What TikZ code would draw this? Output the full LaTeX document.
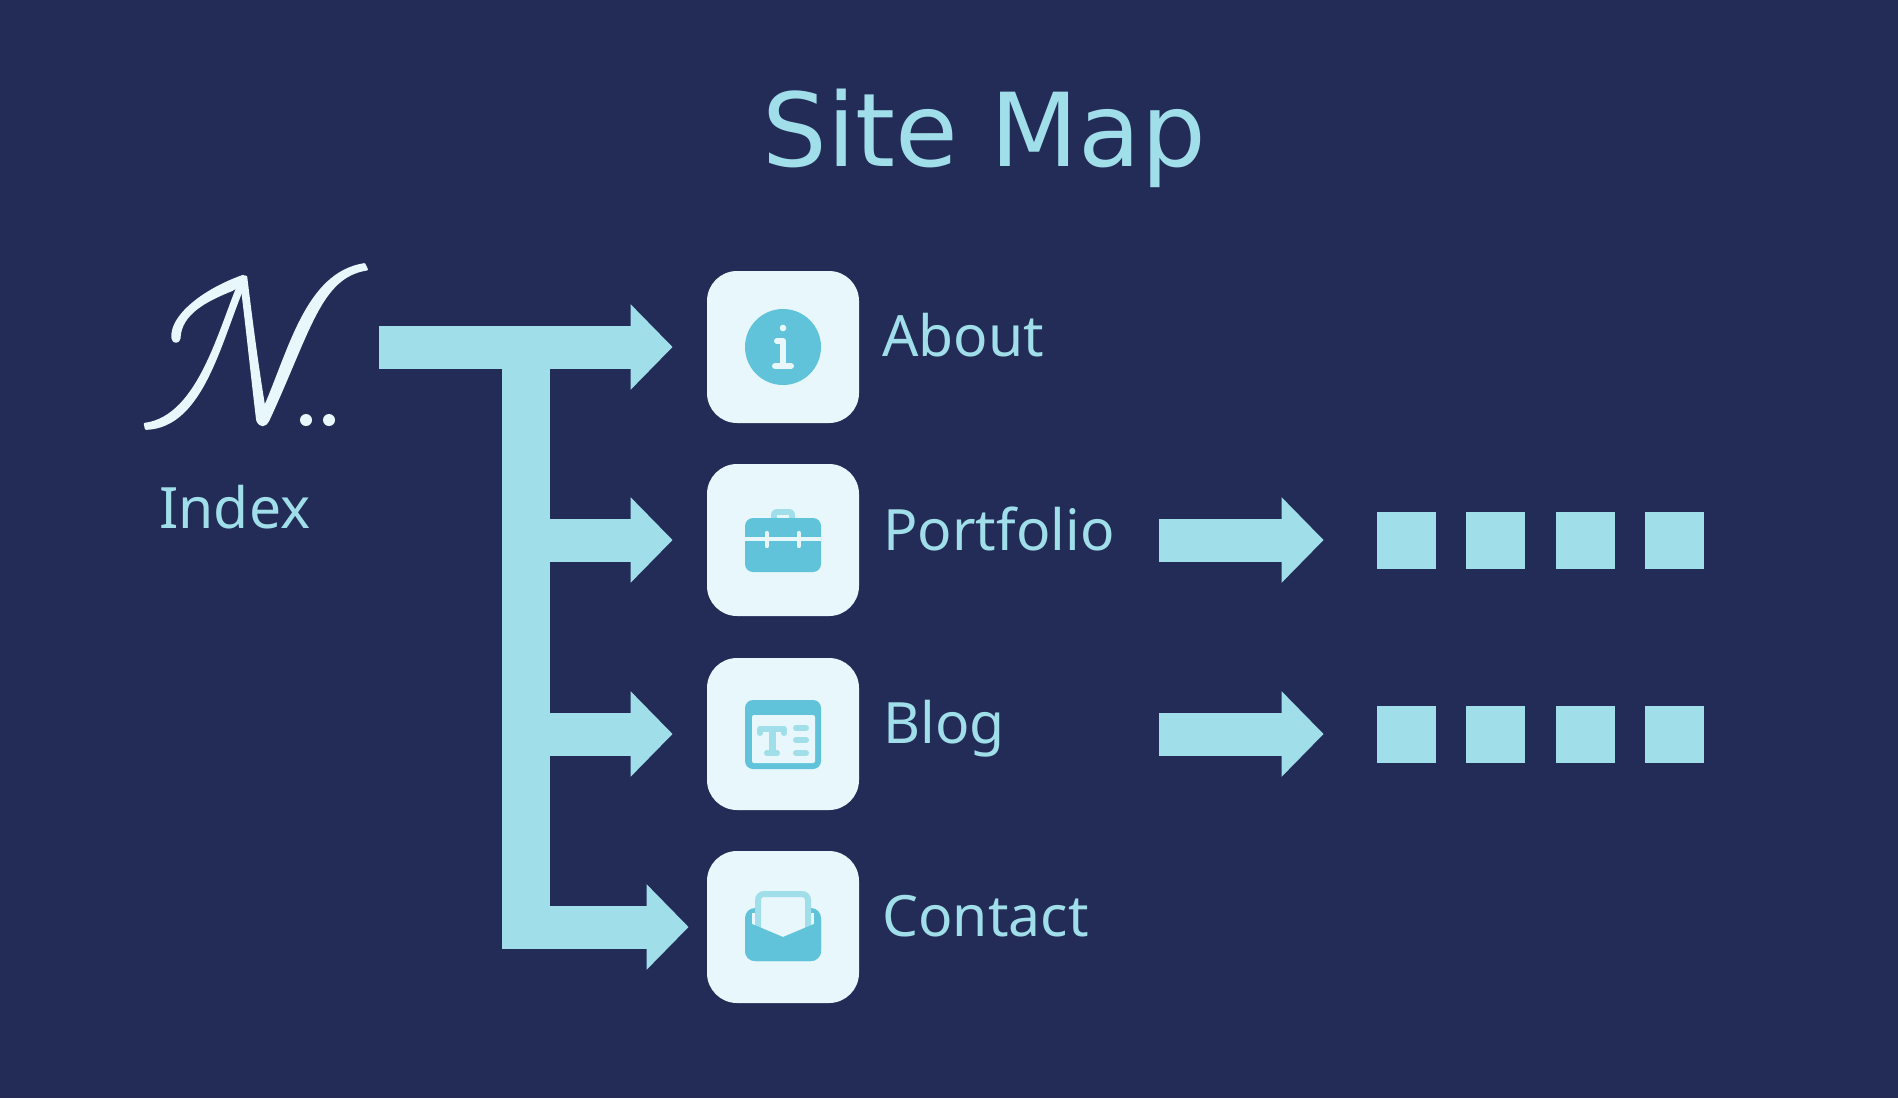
\documentclass[tikz,border=0pt]{standalone}
\usepackage{fontspec}
\setmainfont{Noto Sans}
\newfontfamily\titlefont{DejaVu Sans}
\usetikzlibrary{positioning, arrows.meta, calc}
\definecolor{bgblue}{HTML}{232B57}
\definecolor{lightblue}{HTML}{A0DEEA}
\definecolor{paleblue}{HTML}{E7F7FB}
\definecolor{iconblue}{HTML}{61C3D9}
\tikzset{>=latex}

\begin{document}
\begin{tikzpicture}[x=0.5pt, y=-0.5pt]

\tikzstyle{card}=[fill=paleblue, rectangle, rounded corners=15pt, minimum size=76pt, inner sep=0]
\tikzstyle{label}=[text=lightblue, anchor=base west, inner sep=0, font=\fontsize{28.5}{32}\selectfont]
\tikzstyle{title}=[text=lightblue, anchor=base west, inner sep=0, font=\titlefont\fontsize{51}{56}\selectfont]
\tikzstyle{block}=[draw=lightblue, line width=21.5pt, -{Triangle[length=21pt, width=41.5pt]}]
\tikzstyle{trunk}=[draw=lightblue, line width=24pt]
\tikzstyle{page-sq}=[fill=lightblue, rectangle, minimum width=29.5pt, minimum height=28.5pt, inner sep=0]

\useasboundingbox (0, 0) rectangle (1898, 1098);
\fill [bgblue] (0, 0) rectangle (1898, 1098);

% title and index
\node [title] (title) at (762, 166) {Site Map};
\node [label] (index) at (159, 528) {Index};

% logo, in coordinates of 1/3 pixel
\begin{scope}[x=0.16667pt, y=-0.16667pt, shift={(60pt, -120pt)}, fill=paleblue, draw=paleblue, line width=1.2pt, line join=round]
\filldraw (158, 295) .. controls (150, 230) and (250, 150) .. (370, 108)
	-- (378, 125) -- (335, 150) .. controls (260, 180) and (180, 220) .. (178, 295)
	.. controls (176, 308) and (160, 308) .. (158, 295) -- cycle;
\filldraw (365, 112) .. controls (300, 260) and (240, 530) .. (75, 552)
	-- (78, 566) .. controls (250, 560) and (300, 300) .. (378, 120) -- cycle;
\filldraw (362, 112) -- (378, 110) .. controls (395, 250) and (415, 400) .. (433, 505)
	.. controls (510, 330) and (560, 100) .. (733, 73) -- (740, 88)
	.. controls (600, 110) and (570, 270) .. (445, 540)
	.. controls (435, 560) and (420, 560) .. (412, 540)
	.. controls (395, 400) and (380, 250) .. (362, 112) -- cycle;
\fill (558, 540) circle [radius=18];
\fill (627, 540) circle [radius=18];
\end{scope}

% cards
\node [card] (about) at (783, 347) {};
\node [card] (portfolio) at ($(about) + (0, 193)$) {};
\node [card] (blog) at ($(portfolio) + (0, 194)$) {};
\node [card] (contact) at ($(blog) + (0, 193)$) {};

\node [label] (about-label) at (882, 356) {About};
\node [label] (portfolio-label) at (883, 550) {Portfolio};
\node [label] (blog-label) at (883, 743) {Blog};
\node [label] (contact-label) at (882, 936) {Contact};

% arrows from the index
\coordinate (root) at (379, 347);
\coordinate (trunk-top) at (526, 369);
\coordinate (trunk-bottom) at (526, 949);
\draw [trunk] (trunk-top) -- (trunk-bottom);
\draw [block, shorten >=17pt] (root) -- (about);
\draw [block, shorten >=17pt] (trunk-top |- portfolio) -- (portfolio.west);
\draw [block, shorten >=17pt] (trunk-top |- blog) -- (blog.west);
\draw [block, shorten >=9pt] (trunk-top |- contact) -- (contact.west);

% pages behind portfolio and blog
\foreach \name in {portfolio, blog}
{
	\coordinate (\name-out) at (1158.5, 0 |- \name);
	\foreach \i in {1,...,4}
	{
		\node [page-sq] (\name-sq-\i) at ($(1406.5, 0 |- \name) + (89.4 * \i - 89.4, 0)$) {};
	}
	\draw [block, shorten >=26.5pt] (\name-out) -- (\name-sq-1.west);
}

% icons
\begin{scope}[shift={(about)}]
\fill [iconblue] (0, 0) circle [radius=38];
\fill [paleblue] (0, -19) circle [radius=3.3];
\draw [paleblue, line width=3pt, line cap=round, line join=round] (-6, -6) -- (0, -6) -- (0, 19);
\draw [paleblue, line width=3pt, line cap=round] (-8, 19) -- (8, 19);
\end{scope}

\begin{scope}[shift={(portfolio)}]
\fill [lightblue, rounded corners=3pt] (-12, -31) rectangle (12, -15);
\fill [paleblue] (-6, -25) rectangle (6, -15);
\fill [iconblue, rounded corners=4pt] (-38, -22) rectangle (38, 32);
\fill [paleblue] (-38, -3) rectangle (38, 1);
\draw [paleblue, line width=2.2pt, line cap=round] (-16, -7) -- (-16, 6);
\draw [paleblue, line width=2.2pt, line cap=round] (16, -7) -- (16, 6);
\end{scope}

\begin{scope}[shift={(blog)}]
\fill [iconblue, rounded corners=4pt] (-38, -34) rectangle (38, 35);
\fill [paleblue, rounded corners=1pt] (-31, -19) rectangle (32, 29);
\draw [lightblue, line width=3pt, line cap=round, line join=round] (-23, -1) -- (-23, -5) -- (1, -5) -- (1, -1);
\draw [lightblue, line width=3.5pt] (-11, -5) -- (-11, 19);
\foreach \y in {-6, 6, 19}
{
	\draw [lightblue, line width=3pt, line cap=round] (13, \y) -- (23, \y);
}
\draw [lightblue, line width=3pt, line cap=round] (-16, 19) -- (-6, 19);
\end{scope}

\begin{scope}[shift={(contact)}]
\fill [iconblue, rounded corners=5pt] (-38, -19) rectangle (38, 34);
\fill [paleblue] (-31, -14) rectangle (31, 12);
\filldraw [fill=paleblue, draw=lightblue, line width=3pt, rounded corners=3pt] (-25, 12) -- (-25, -33) -- (25, -33) -- (25, 12);
\fill [iconblue] (-38, -6) -- (0, 10) -- (38, -6) [rounded corners=5pt] -- (38, 34) -- (-38, 34) [sharp corners] -- cycle;
\end{scope}

\end{tikzpicture}
\end{document}
